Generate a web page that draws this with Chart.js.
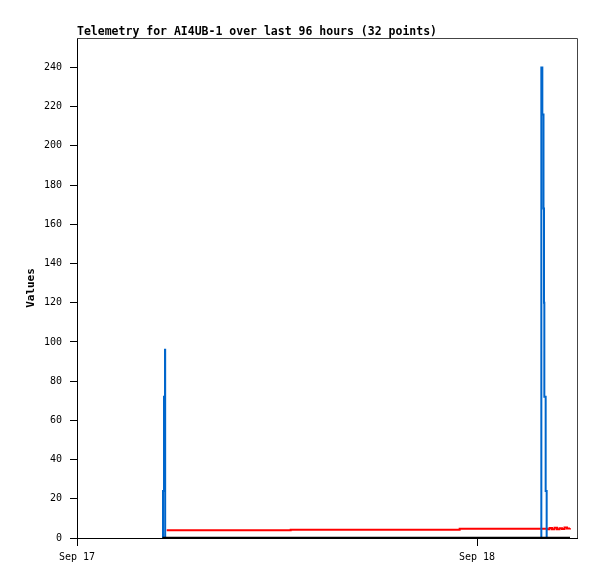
<!DOCTYPE html>
<html><head><meta charset="utf-8">
<script src="https://cdn.jsdelivr.net/npm/chart.js@4"></script>
<style>html,body{margin:0;padding:0;background:#fff;} canvas{display:block;}</style>
</head><body>
<canvas id="c" width="597" height="579"></canvas>
<script>
// ---- data (hours since Sep 17 00:00) ----
const chartTitle = 'Telemetry for AI4UB-1 over last 96 hours (32 points)';
const yAxisLabel = 'Values';
const xTickHours = [0, 24];
const xTickLabels = ['Sep 17', 'Sep 18'];
const yTickValues = [0, 20, 40, 60, 80, 100, 120, 140, 160, 180, 200, 220, 240];

const blueHours  = [5.15, 5.16, 5.22, 5.28, 5.29, 27.85, 27.86, 27.92, 27.99, 28.02, 28.04, 28.12, 28.18, 29.58];
const blueValues = [0,    24,   72,   96,   0,    0,     240,   216,   168,   120,   72,    24,    0,     0];

const redHours  = [5.38, 12.82, 22.96, 28.20, 28.35, 28.50, 28.65, 28.80, 28.95, 29.10, 29.25, 29.40, 29.58];
const redValues = [3.9,  4.25,  4.75,  4.5,   5.1,   4.4,   5.2,   4.5,   5.0,   4.6,   5.3,   4.8,   5.0];

const blackHours  = [5.13, 5.38, 12.82, 22.96, 27.86, 28.18, 29.58];
const blackValues = [0,    0,    0,     0,     0,     0,     0];

const toPts = (xs, ys) => xs.map((x, i) => ({x: x, y: ys[i]}));
const MONO = '"DejaVu Sans Mono", "Liberation Mono", monospace';

const framePlugin = {
  id: 'frame',
  afterDraw(chart) {
    const {ctx, chartArea: a} = chart;
    ctx.save();
    ctx.strokeStyle = '#444';
    ctx.lineWidth = 1;
    ctx.beginPath();
    ctx.moveTo(a.left, a.top + 0.5);
    ctx.lineTo(a.right + 0.5, a.top + 0.5);
    ctx.lineTo(a.right + 0.5, a.bottom);
    ctx.stroke();
    ctx.font = 'bold 11.5px ' + MONO;
    ctx.fillStyle = '#000';
    ctx.textAlign = 'left';
    ctx.textBaseline = 'alphabetic';
    ctx.fillText(chartTitle, a.left, a.top - 3);
    ctx.restore();
  }
};

new Chart(document.getElementById('c'), {
  type: 'line',
  data: {
    datasets: [
      {label: 'black', data: toPts(blackHours, blackValues), borderColor: '#000', borderWidth: 2.5, stepped: 'before'},
      {label: 'blue', data: toPts(blueHours, blueValues), borderColor: '#0066cc', borderWidth: 2, stepped: 'before'},
      {label: 'red', data: toPts(redHours, redValues), borderColor: '#ff0000', borderWidth: 2, stepped: 'before'}
    ]
  },
  options: {
    responsive: false,
    animation: false,
    devicePixelRatio: 1,
    layout: {padding: {top: 38, right: 20, left: 0, bottom: 0}},
    elements: {point: {radius: 0}, line: {tension: 0, borderCapStyle: 'butt', borderJoinStyle: 'miter', fill: false}},
    plugins: {legend: {display: false}, tooltip: {enabled: false}, title: {display: false}},
    scales: {
      x: {
        type: 'linear', min: 0, max: 30,
        afterBuildTicks: s => { s.ticks = xTickHours.map(v => ({value: v})); },
        afterFit: s => { s.height = 41; },
        ticks: {
          callback: v => { const i = xTickHours.indexOf(v); return i >= 0 ? xTickLabels[i] : ''; },
          font: {family: MONO, size: 10}, color: '#000', maxRotation: 0, autoSkip: false, padding: 5
        },
        grid: {drawOnChartArea: false, drawTicks: true, tickLength: 8, color: '#000'},
        border: {display: true, color: '#000', width: 1}
      },
      y: {
        min: 0, max: 255,
        afterBuildTicks: s => { s.ticks = yTickValues.map(v => ({value: v})); },
        afterFit: s => { s.width = 77; },
        ticks: {font: {family: MONO, size: 10}, color: '#000', padding: 8},
        grid: {drawOnChartArea: false, drawTicks: true, tickLength: 7, color: '#000'},
        border: {display: true, color: '#000', width: 1},
        title: {display: true, text: yAxisLabel, font: {family: MONO, size: 11, weight: 'bold'}, color: '#000', padding: {top: 25, bottom: 0}}
      }
    }
  },
  plugins: [framePlugin]
});
</script>
</body></html>
